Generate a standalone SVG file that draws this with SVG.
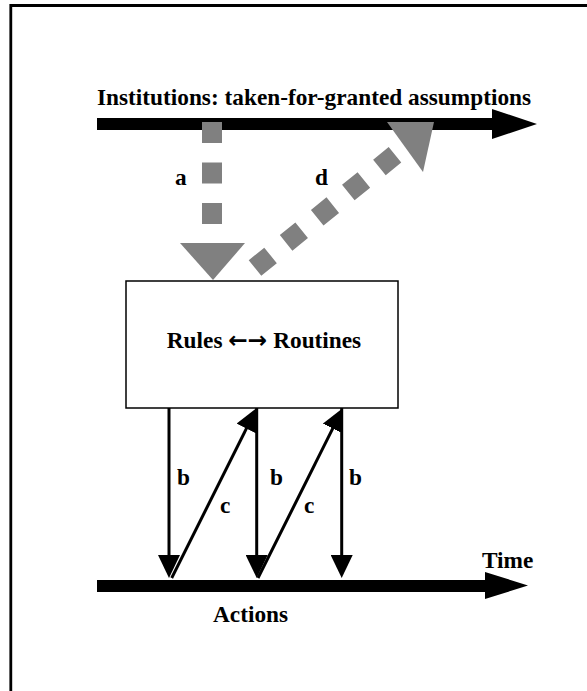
<svg xmlns="http://www.w3.org/2000/svg" width="587" height="691" viewBox="0 0 587 691">
  <style>
    .lbl { font-family: "Liberation Serif", "Times New Roman", serif; font-weight: bold; font-size: 23.3px; fill: #000; }
    .arr { font-family: "DejaVu Sans", sans-serif; font-weight: bold; }
    .thin { stroke: #000; stroke-width: 3; fill: none; }
    .gray { fill: #808080; }
    .dash { stroke: #808080; stroke-width: 20; fill: none; stroke-dasharray: 20 20; }
  </style>
  <defs>
    <marker id="head" viewBox="0 0 23 22" refX="8" refY="11" markerWidth="23" markerHeight="22" markerUnits="userSpaceOnUse" orient="auto">
      <path d="M0,0 L23,11 L0,22 Z" fill="#000"/>
    </marker>
  </defs>

  <rect width="587" height="691" fill="#fff"/>

  <!-- outer frame, open to the right and bottom -->
  <path d="M10.8,700 V5.5 H600" fill="none" stroke="#000" stroke-width="2.8"/>

  <!-- upper timeline: institutions -->
  <g id="institutions">
    <text class="lbl" x="97" y="105">Institutions: taken-for-granted assumptions</text>
    <polygon points="97,118 492,118 492,109 537,124 492,139 492,130 97,130" fill="#000"/>
  </g>

  <!-- central box -->
  <g id="rules-routines">
    <rect x="126" y="281" width="272" height="127" fill="#fff" stroke="#000" stroke-width="1.5"/>
    <text class="lbl" x="264" y="348" text-anchor="middle" font-size="22.5">Rules <tspan class="arr">←→</tspan> Routines</text>
  </g>

  <!-- lower timeline: actions -->
  <g id="actions">
    <polygon points="97,580 485,580 485,572 528,585.5 485,599 485,592 97,592" fill="#000"/>
    <text class="lbl" x="482" y="568">Time</text>
    <text class="lbl" x="213" y="622">Actions</text>
  </g>

  <g id="connectors">
    <!-- a: institutions shape rules -->
    <line class="dash" x1="212" y1="122" x2="212" y2="224" style="stroke-dasharray:21 19.5"/>
    <polygon class="gray" points="180,243 245,243 213,280"/>
    <text class="lbl" x="175" y="185">a</text>

    <!-- d: routines feed back into institutions -->
    <line class="dash" x1="255" y1="268" x2="396" y2="154"/>
    <polygon class="gray" points="387,122 434,122 423,172"/>
    <text class="lbl" x="315" y="185">d</text>

    <!-- b: rules drive actions -->
    <line class="thin" x1="169" y1="408" x2="169" y2="563" marker-end="url(#head)"/>
    <line class="thin" x1="256.7" y1="408" x2="256.7" y2="563" marker-end="url(#head)"/>
    <line class="thin" x1="341.7" y1="408" x2="341.7" y2="563" marker-end="url(#head)"/>
    <text class="lbl" x="177" y="485">b</text>
    <text class="lbl" x="270" y="485">b</text>
    <text class="lbl" x="349" y="485">b</text>

    <!-- c: actions feed back into routines -->
    <line class="thin" x1="171.7" y1="578" x2="250" y2="421.4" marker-end="url(#head)"/>
    <line class="thin" x1="258" y1="578" x2="336.3" y2="421.4" marker-end="url(#head)"/>
    <text class="lbl" x="220" y="513">c</text>
    <text class="lbl" x="304" y="513">c</text>
  </g>
</svg>
